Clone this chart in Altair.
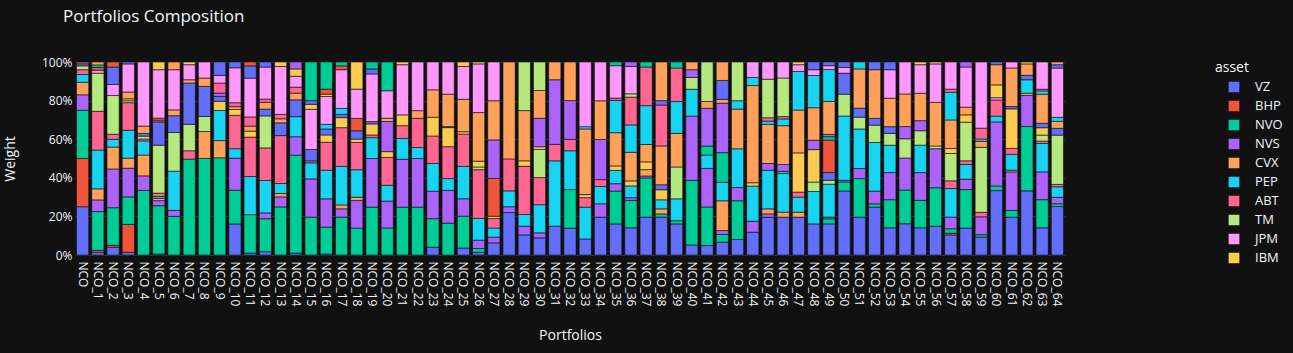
import altair as alt
import pandas as pd

N = 65
portfolios = ["NCO"] + [f"NCO_{i}" for i in range(1, N)]

main_assets = ["VZ", "BHP", "NVO", "NVS", "CVX", "PEP", "ABT", "TM", "JPM", "IBM"]
extra_assets = [f"A{i}" for i in range(11, 26)]
palette = ["#636EFA", "#EF553B", "#00CC96", "#AB63FA", "#FFA15A",
           "#19D3F3", "#FF6692", "#B6E880", "#FF97FF", "#FECB52"]

VZ = [25, 1.4, 4, 1.4, 0, 0.5, 0, 0, 0, 0,
      16, 1, 1.7, 0, 1, 0, 0.5, 0, 0, 0,
      0, 0, 0, 4, 0, 3.6, 1.4, 6.3, 21.9, 10.4,
      8.9, 14.9, 13.9, 8.3, 19.6, 16.1, 14.1, 19.6, 19.6, 16.1,
      5.2, 4.9, 6.6, 8, 11.8, 19.6, 19.6, 19.6, 16.1, 16.1,
      33.2, 19.6, 24.8, 14.1, 16.1, 14.1, 14.9, 10.4, 13.9, 9.2,
      33.2, 19.6, 33.2, 14.1, 24.8]
BHP = {0: 25, 1: 1, 2: 1, 3: 14.4, 57: 0.9}
NVO = [25, 20, 19.4, 14.2, 33.5, 25, 20, 49.7, 50, 50.3,
       17.4, 19.8, 17, 24.8, 50.7, 19.6, 13.9, 19.6, 13.9, 24.8,
       14, 24.8, 24.8, 14.8, 16.5, 16.5, 2, 0, 0, 0,
       0, 0, 20, 0, 0, 17, 14.2, 20.3, 1.7, 1.7,
       33.5, 20, 4, 20, 0, 0, 0, 0, 0, 2.6,
       4.7, 20, 1.7, 14.6, 17.4, 14.2, 20, 2.3, 20, 1.2,
       2.4, 3.5, 33.3, 14.6, 1.4]
NVS = [8, 6, 20, 14.8, 7.5, 2.6, 3.1, 0, 0, 0,
       16.5, 0, 3, 5.2, 9.5, 19.8, 14.6, 4.3, 14.2, 25.2,
       13.9, 24.8, 25.2, 14.2, 17, 9, 4.3, 3, 3, 4.5,
       2.6, 0, 0, 0, 6.9, 3.8, 1.4, 1, 0, 0,
       33.3, 20, 2, 6.8, 5.7, 1.7, 0, 0, 0, 0.9,
       0.9, 5.2, 6.6, 14.1, 16.5, 14.4, 20.3, 6.1, 5.4, 9.2,
       33, 20, 16.1, 14.4, 3.3]
CVX = {0: 6.5, 1: 5.7, 2: 11.3, 3: 5.2, 4: 10.8, 5: 1.2, 8: 13.9, 9: 8.9,
       13: 1.7, 17: 2, 18: 1.7, 37: 3.3, 38: 2.6, 42: 15.3, 45: 2.6,
       46: 2.6, 47: 2.6, 61: 0.9, 62: 1.2}
PEP = [4, 20, 4, 14.4, 7.3, 1, 20.3, 0, 0, 15.6,
       4.9, 19.6, 16.7, 5.2, 10.4, 8.3, 14.8, 20, 14.2, 10.8,
       8.2, 10.8, 5.7, 14.4, 6.1, 16.8, 11.3, 4.7, 8.2, 6.1,
       14.6, 33.9, 20.1, 16.5, 9, 6.9, 6.1, 0, 4.7, 11.3,
       0, 6.9, 9.5, 20, 18.2, 20, 20, 7.8, 16.8, 17,
       33.3, 20.5, 25.2, 14.2, 0, 14.2, 0, 14.8, 7.6, 0,
       3, 8.2, 6.9, 14.8, 5.4]
ABT = [2.5, 20, 2.6, 14.2, 1, 1.7, 0, 4.3, 0, 0,
       17.2, 20.3, 16.8, 24.7, 0, 1, 14.4, 20, 14.1, 1.4,
       14.4, 6.6, 15.1, 14.2, 16.5, 16.7, 25.2, 4.9, 16.5, 25,
       14.1, 8.5, 5.9, 4.9, 3.5, 0, 0, 0, 0, 0,
       0, 0, 0, 0, 0, 0, 0, 2.6, 0, 0,
       0, 0, 0, 0, 0, 0, 0, 4, 1.9, 2.3,
       8.3, 3.1, 0, 1.2, 1.2]
TM = [2, 19.6, 20, 1, 1.5, 24.8, 20, 13.7, 7.8, 0,
      0, 0, 16.5, 0, 0, 0, 0, 0, 0, 0,
      0, 0, 0, 0, 0, 0, 1.4, 0, 0, 0,
      14.6, 0, 0, 0, 0, 0, 0, 0, 0, 16.5,
      0, 0, 0, 0, 0, 0, 0, 0, 4.9, 2,
      11.3, 6.1, 9, 6.1, 9.9, 7.5, 1.4, 14.2, 20, 33.3,
      0, 0, 0, 3.1, 25.2]
JPM = {0: 0.5, 1: 1.5, 2: 5.7, 60: 1.2}
IBM = {3: 1, 9: 4.7, 10: 3, 11: 3.1, 16: 3.8, 17: 5.2, 18: 1.7, 19: 5.7, 20: 3,
       21: 5.6, 23: 9.7, 24: 9.9, 25: 1.2, 26: 3, 27: 1.2, 29: 2.8, 30: 1.4,
       33: 1.6, 35: 2.3, 36: 2.6, 37: 4, 38: 5.2, 44: 1.7, 47: 20.3, 48: 16.8,
       57: 2.6, 58: 3.8, 60: 6.6, 61: 20.5, 63: 3.8}
A11 = {2: 9, 4: 1.4, 5: 12, 6: 8.7, 7: 21.4, 8: 15.6, 9: 2.6, 12: 3.5, 13: 6.6,
       14: 8.7, 15: 5.9, 16: 3.1, 17: 1.7, 18: 4.3, 19: 1.2, 24: 0.5, 38: 2.6,
       49: 4, 50: 10.9, 51: 4.7, 52: 3.5, 53: 3.5, 61: 1.2, 62: 2.3, 63: 2.3, 64: 3.5}
A12 = {1: 1.5, 2: 2.6, 5: 1, 18: 6.4, 27: 19.6, 49: 16.8}
A13 = {1: 1.3, 41: 4.7, 42: 15.3, 46: 1.2, 49: 1.7}
A14 = {0: 1, 9: 1.7, 20: 15.6, 27: 20, 30: 14.8, 31: 33.5, 32: 20.1, 34: 20.8,
       41: 19.6, 42: 25.5, 45: 3.5, 46: 3.5, 48: 4.9, 49: 1.2, 54: 6.3, 55: 5.2}
A15 = {0: 0.5, 1: 1.5, 3: 3.5, 4: 3.8, 6: 3, 7: 1.7, 8: 4.3, 10: 1.5, 11: 2.6,
       12: 3.5, 13: 2.1, 14: 3.5, 20: 1.7, 22: 4, 23: 14.2, 24: 16.8, 25: 16.8,
       26: 25.2, 27: 20.3, 28: 50, 29: 26, 30: 14.4, 31: 9.2, 32: 20, 33: 34,
       34: 20, 35: 17.2, 36: 14.8, 37: 9, 38: 20.1, 39: 17.4, 41: 3.5, 42: 2,
       43: 20.5, 44: 50.3, 45: 20.3, 46: 20.1, 47: 22.2, 48: 16.8, 49: 17,
       51: 20.3, 52: 25.2, 53: 14.8, 54: 16.8, 55: 14.2, 56: 22.6, 57: 14.8,
       58: 4, 59: 3.1, 60: 10.4, 61: 20, 62: 5.9, 63: 15.1, 64: 3.5}
A16 = {16: 2.4, 17: 3.1, 33: 1.2, 35: 16.7, 36: 14.2, 37: 20.1, 39: 16.5,
       40: 13.9, 43: 4.3, 44: 4.2, 45: 1.7, 46: 3.5, 47: 20, 48: 16.7, 49: 16.5,
       51: 3.6, 57: 14.4, 59: 1.2, 63: 1.7, 64: 2.1}
A17 = {5: 1, 9: 5.2, 10: 2, 11: 4.7, 12: 1.7, 13: 2.3, 14: 3.1, 35: 1.2, 36: 14.4,
       37: 20, 38: 21.2, 39: 17.4, 45: 1.7, 46: 1.2, 57: 1.6, 59: 5.6, 63: 0.9}
A18 = {29: 25.2, 30: 14.8, 36: 1.7, 40: 6.1, 41: 20.5, 43: 20, 45: 20, 46: 20}
A19 = {3: 14.5, 4: 33.2, 5: 25, 6: 20.8, 7: 7.8, 8: 8.3, 9: 4, 10: 18, 11: 20,
       12: 16.5, 13: 24.7, 14: 5.6, 15: 20.8, 16: 14.4, 17: 20, 18: 15.1,
       19: 24.7, 20: 14.2, 21: 26, 22: 25.2, 23: 14.4, 24: 16.7, 25: 17,
       26: 25.2, 27: 20.1, 33: 33.5, 34: 20.1, 35: 16.8, 36: 14.2, 44: 8,
       45: 8.9, 46: 8.3, 47: 3.5, 48: 3, 49: 2, 50: 3, 53: 14.8, 54: 16.5,
       55: 14.8, 56: 20, 57: 14.1, 58: 20.8, 59: 33.9, 61: 3.1, 63: 14.1, 64: 25.2}
A20 = {5: 4, 7: 1.4, 13: 2.3, 14: 3.8, 15: 2.6, 16: 1.2, 18: 14, 21: 1.4,
       25: 2.3, 26: 1, 47: 1.4, 55: 1.4, 56: 1, 62: 1}
A21 = {3: 1, 9: 6.9, 10: 3, 11: 6.3, 12: 2.6, 15: 1.9, 19: 2.6, 38: 2.3,
       42: 9.7, 48: 4, 49: 1.9, 50: 2.8, 52: 4, 53: 4, 60: 1.4, 64: 1.7}
A22 = {11: 2, 16: 2.6, 17: 2}
A23 = {15: 20, 16: 14, 17: 2, 19: 3.6, 20: 14.9, 35: 1.9, 37: 2.6, 39: 3.1}
A24 = {14: 3.6, 36: 2.3, 40: 4, 58: 2.6}
A25 = {6: 4, 38: 20, 40: 4, 42: 9.5, 64: 1.4}

series = [VZ, BHP, NVO, NVS, CVX, PEP, ABT, TM, JPM, IBM,
          A11, A12, A13, A14, A15, A16, A17, A18, A19, A20,
          A21, A22, A23, A24, A25]
asset_names = main_assets + extra_assets
colors = [palette[i % 10] for i in range(len(asset_names))]

rows = []
for k, (name, vals) in enumerate(zip(asset_names, series)):
    for i in range(N):
        w = vals.get(i, 0) if isinstance(vals, dict) else vals[i]
        if w > 0:
            rows.append({"portfolio": portfolios[i], "asset": name,
                         "weight": w, "k": k})
df = pd.DataFrame(rows)

FONT = "Open Sans"
TXT = "#f2f5fa"

chart = alt.Chart(df).mark_bar(stroke="#111111", strokeWidth=0.6).encode(
    x=alt.X("portfolio:N", sort=portfolios,
            scale=alt.Scale(paddingInner=0.2, paddingOuter=0.1),
            axis=alt.Axis(title="Portfolios", labelAngle=90, labelPadding=6,
                          titlePadding=23, ticks=False, domain=False,
                          grid=False, labelFontSize=12, titleFontSize=14)),
    y=alt.Y("weight:Q", stack="normalize",
            scale=alt.Scale(domain=[0, 1], nice=False),
            axis=alt.Axis(title="Weight", format=".0%",
                          values=[0, 0.2, 0.4, 0.6, 0.8, 1.0],
                          ticks=False, domain=False, labelPadding=3,
                          titlePadding=24, labelFontSize=12,
                          titleFontSize=14, gridColor="#283442")),
    color=alt.Color("asset:N",
                    scale=alt.Scale(domain=asset_names, range=colors),
                    legend=alt.Legend(values=main_assets, title="asset",
                                      orient="none", legendX=1140, legendY=-1,
                                      symbolType="square", symbolSize=150,
                                      symbolOffset=12, labelOffset=14,
                                      rowPadding=-1, titlePadding=5,
                                      titleFontSize=14, labelFontSize=13,
                                      titleFontWeight="normal")),
    order=alt.Order("k:Q", sort="ascending"),
).properties(
    width=990, height=193,
    autosize=alt.AutoSizeParams(type="none"),
    padding={"left": 75, "top": 62, "right": 228, "bottom": 98},
    background="#111111",
    title=alt.TitleParams("Portfolios Composition", anchor="start",
                          frame="group", fontSize=17, fontWeight="normal",
                          color=TXT, font=FONT, offset=30, dx=-12),
).configure_view(strokeWidth=0).configure_axis(
    labelColor=TXT, titleColor=TXT, labelFont=FONT, titleFont=FONT,
    titleFontWeight="normal"
).configure_legend(
    labelColor=TXT, titleColor=TXT, labelFont=FONT, titleFont=FONT
)

chart.save("out.html", embed_options={"renderer": "svg", "actions": False})
